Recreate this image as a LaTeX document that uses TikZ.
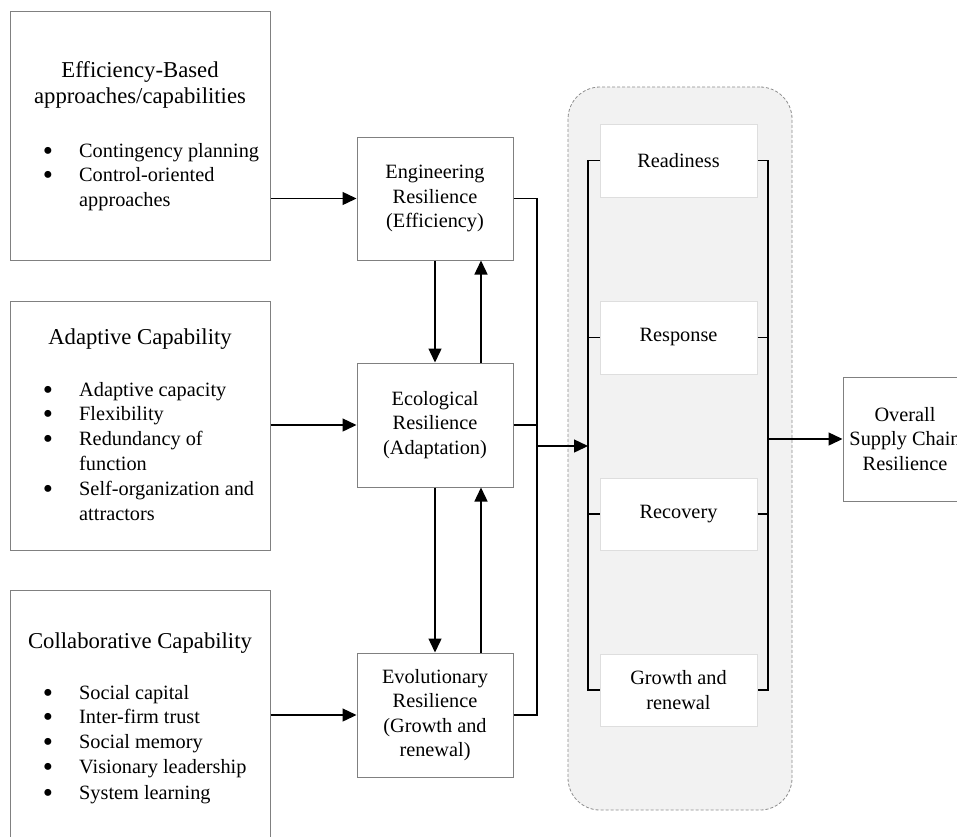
\documentclass[tikz,border=0pt]{standalone}
\usepackage{fontspec}
\setmainfont{Liberation Serif}
\usetikzlibrary{arrows.meta}
\definecolor{boxgray}{HTML}{808080}
\definecolor{lightedge}{HTML}{DEDEDE}
\definecolor{panelfill}{HTML}{F2F2F2}
\definecolor{paneledge}{HTML}{8C8C8C}
\newcommand\bodyfnt{\fontsize{20.3}{24.5}\selectfont}
\newcommand\titlefnt{\fontsize{22.7}{26}\selectfont}
\newcommand\bulfnt{\fontsize{29}{30}\selectfont}
\tikzset{
  capbox/.style={draw=boxgray, line width=1pt, minimum width=260pt, inner sep=0pt},
  resbox/.style={draw=boxgray, line width=1pt, minimum height=124pt, align=center, font=\bodyfnt, inner sep=0pt},
  phasebox/.style={fill=white, draw=lightedge, line width=1pt, minimum width=157pt, minimum height=73pt, align=center, font=\bodyfnt, inner sep=0pt},
  ttl/.style={anchor=base, font=\titlefnt, inner sep=0pt},
  itm/.style={anchor=base west, font=\bodyfnt, inner sep=0pt},
  bul/.style={anchor=base, font=\bulfnt, inner sep=0pt, yshift=-3pt},
  conn/.style={line width=1.4pt, draw=black},
  arr/.style={conn, -{Triangle[length=14pt,width=13pt]}},
  panel/.style={fill=panelfill, draw=paneledge, line width=0.8pt, dash pattern=on 3pt off 2pt, rounded corners=32pt}
}
\begin{document}
\begin{tikzpicture}[x=1pt,y=-1pt]
\useasboundingbox (0,0) rectangle (957,836);
\clip (0,0) rectangle (957,836);

% left capability boxes
\node[capbox, minimum height=249pt] (cap1) at (140,135.5) {};
\node[capbox, minimum height=249pt] (cap2) at (140,425.5) {};
\node[capbox, minimum height=270pt] (cap3) at (140,725) {};

\node[ttl] (t1a) at (140,77) {Efficiency-Based};
\node[ttl] (t1b) at (140,103) {approaches/capabilities};
\node[bul] (b1a) at (48,157) {•};
\node[itm] (i1a) at (79,157) {Contingency planning};
\node[bul] (b1b) at (48,181.5) {•};
\node[itm] (i1b) at (79,181.5) {Control-oriented};
\node[itm] (i1c) at (79,206.5) {approaches};

\node[ttl] (t2a) at (140,344) {Adaptive Capability};
\node[bul] (b2a) at (48,396) {•};
\node[itm] (i2a) at (79,396) {Adaptive capacity};
\node[bul] (b2b) at (48,420.5) {•};
\node[itm] (i2b) at (79,420.5) {Flexibility};
\node[bul] (b2c) at (48,445.5) {•};
\node[itm] (i2c) at (79,445.5) {Redundancy of};
\node[itm] (i2d) at (79,470) {function};
\node[bul] (b2e) at (48,495) {•};
\node[itm] (i2e) at (79,495) {Self-organization and};
\node[itm] (i2f) at (79,520) {attractors};

\node[ttl] (t3a) at (140,648) {Collaborative Capability};
\node[bul] (b3a) at (48,699) {•};
\node[itm] (i3a) at (79,699) {Social capital};
\node[bul] (b3b) at (48,723.5) {•};
\node[itm] (i3b) at (79,723.5) {Inter-firm trust};
\node[bul] (b3c) at (48,748.5) {•};
\node[itm] (i3c) at (79,748.5) {Social memory};
\node[bul] (b3d) at (48,773) {•};
\node[itm] (i3d) at (79,773) {Visionary leadership};
\node[bul] (b3e) at (48,799) {•};
\node[itm] (i3e) at (79,799) {System learning};

% resilience boxes
\node[resbox, minimum width=156pt, minimum height=123pt] (eng) at (435,198.5) {Engineering\\Resilience\\(Efficiency)};
\node[resbox, minimum width=156pt] (eco) at (435,425) {Ecological\\Resilience\\(Adaptation)};
\node[resbox, minimum width=156pt] (evo) at (435,715) {Evolutionary\\Resilience\\(Growth and\\renewal)};

% panel
\node[panel, minimum width=224pt, minimum height=723pt, inner sep=0pt] (pan) at (680,448.5) {};
\node[phasebox] (read) at (678.5,160.5) {Readiness};
\node[phasebox] (resp) at (678.5,337.5) {Response};
\node[phasebox, minimum height=72pt] (reco) at (678.5,514) {Recovery};
\node[phasebox, minimum height=72pt] (grow) at (678.5,690) {Growth and\\renewal};

% overall
\node[resbox, minimum width=124pt] (ovr) at (905,439) {Overall\\Supply Chain\\Resilience};

% arrows from capabilities
\draw[arr] (eng.west -| cap1.east) -- (eng.west);
\draw[arr] (eco.west -| cap2.east) -- (eco.west);
\draw[arr] (evo.west -| cap3.east) -- (evo.west);

% vertical arrows
\draw[arr] (eng.south) -- (eco.north);
\draw[arr] ([xshift=46pt]eco.north) -- ([xshift=46pt]eng.south);
\draw[arr] (eco.south) -- (evo.north);
\draw[arr] ([xshift=46pt]evo.north) -- ([xshift=46pt]eco.south);

% bus to panel
\coordinate (bus) at (537,446);
\coordinate (lb) at (588,446);
\coordinate (rb) at (768,439);
\draw[conn] (eng.east) -| (bus);
\draw[conn] (evo.east) -| (bus);
\draw[conn] (eco.east) -- (eco.east -| bus);
\draw[arr] (bus) -- (lb);

% brackets
\draw[conn] (read.west) -- (read.west -| lb) -- (grow.west -| lb) -- (grow.west);
\draw[conn] (resp.west) -- (resp.west -| lb);
\draw[conn] (reco.west) -- (reco.west -| lb);
\draw[conn] (read.east) -- (read.east -| rb) -- (grow.east -| rb) -- (grow.east);
\draw[conn] (resp.east) -- (resp.east -| rb);
\draw[conn] (reco.east) -- (reco.east -| rb);
\draw[arr] (ovr.west -| rb) -- (ovr.west);
\end{tikzpicture}
\end{document}
